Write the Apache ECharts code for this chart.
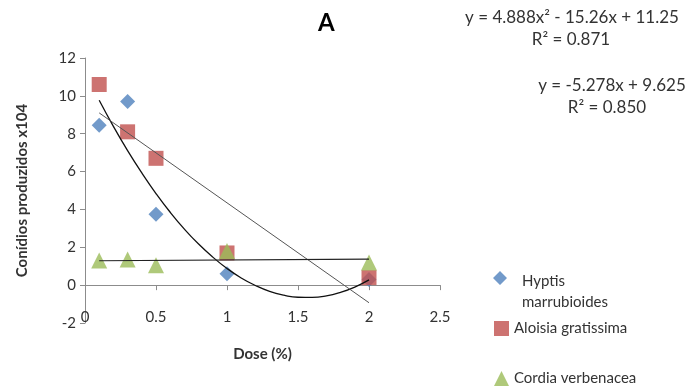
<!DOCTYPE html>
<html>
<head>
<meta charset="utf-8">
<script src="https://cdn.jsdelivr.net/npm/echarts@6/dist/echarts.min.js"></script>
<style>
  html, body { margin: 0; padding: 0; background: #fff; }
  #main { width: 685px; height: 387px; }
</style>
</head>
<body>
<div id="main"></div>
<script>
// dados
var doses = [0.1, 0.3, 0.5, 1, 2];
var hyptis = [8.45, 9.7, 3.75, 0.6, 0.3];
var aloisia = [10.6, 8.1, 6.7, 1.7, 0.4];
var cordia = [1.3, 1.35, 1.05, 1.8, 1.2];

// linhas de tendência
var polyX = [0.1, 0.2, 0.3, 0.4, 0.5, 0.6, 0.7, 0.8, 0.9, 1.0, 1.1, 1.2, 1.3, 1.4, 1.5, 1.6, 1.7, 1.8, 1.9, 2.0];
var polyY = [9.77, 8.39, 7.11, 5.93, 4.84, 3.85, 2.96, 2.17, 1.48, 0.88, 0.38, -0.02, -0.33, -0.53, -0.64, -0.65, -0.57, -0.38, -0.10, 0.28];
var linRedX = [0.1, 2];
var linRedY = [9.1, -0.93];
var linGreenX = [0.1, 2];
var linGreenY = [1.29, 1.37];

var xTicks = [0, 0.5, 1, 1.5, 2, 2.5];
var yTicks = [-2, 0, 2, 4, 6, 8, 10, 12];

var names = ["Hyptis\nmarrubioides", "Aloisia gratissima", "Cordia verbenacea"];
var equations = [
  "y = 4.888x² - 15.26x + 11.25",
  "R² = 0.871",
  "y = -5.278x + 9.625",
  "R² = 0.850"
];

function pairs(xs, ys) {
  return xs.map(function (x, i) { return [x, ys[i]]; });
}

var font = "Lato, 'Open Sans', sans-serif";
var axisColor = "#8c8c8c";
var txt = "#333";
var eqFont = "17px " + font;

// losango no alto de uma caixa mais alta (alinha com a 1a linha do nome)
var diamondTop = "path://M7,0L14,7L7,14L0,7Z M0,42L24,42Z";

function eq(text, x, y) {
  return {
    type: "text", x: x, y: y,
    style: { text: text, textAlign: "center", textVerticalAlign: "middle", font: eqFont, fill: txt }
  };
}

var myChart = echarts.init(document.getElementById("main"));

var option = {
  animation: false,
  textStyle: { fontFamily: font },
  title: {
    text: "A",
    left: 313,
    top: 6,
    textStyle: { fontFamily: font, fontSize: 24, fontWeight: "bold", color: "#000" }
  },
  grid: { left: 85, right: 245, top: 58, bottom: 64 },
  legend: [
    {
      data: [names[0]], orient: "vertical", left: 488, top: 266,
      icon: diamondTop, itemWidth: 24, itemHeight: 42,
      textStyle: { fontFamily: font, fontSize: 15, color: txt, lineHeight: 21 }
    },
    {
      data: [names[1]], orient: "vertical", left: 489, top: 316,
      itemWidth: 15, itemHeight: 15,
      textStyle: { fontFamily: font, fontSize: 15, color: txt }
    },
    {
      data: [names[2]], orient: "vertical", left: 489, top: 366,
      itemWidth: 15, itemHeight: 15,
      textStyle: { fontFamily: font, fontSize: 15, color: txt }
    }
  ],
  xAxis: [
    {
      type: "value", min: xTicks[0], max: xTicks[xTicks.length - 1], interval: 0.5,
      axisLine: { onZero: true, lineStyle: { color: axisColor } },
      axisTick: { show: true, inside: false, length: 5, lineStyle: { color: axisColor } },
      axisLabel: { show: false },
      splitLine: { show: false }
    },
    {
      type: "value", min: xTicks[0], max: xTicks[xTicks.length - 1], interval: 0.5,
      position: "bottom",
      axisLine: { show: false, onZero: false },
      axisTick: { show: false },
      splitLine: { show: false },
      axisLabel: { margin: -13, fontSize: 15, color: txt, fontFamily: font },
      name: "Dose (%)", nameLocation: "middle", nameGap: 24,
      nameTextStyle: { fontFamily: font, fontSize: 15, fontWeight: "bold", color: txt }
    }
  ],
  yAxis: {
    type: "value", min: yTicks[0], max: yTicks[yTicks.length - 1], interval: 2,
    axisLine: { show: true, onZero: false, lineStyle: { color: axisColor } },
    axisTick: { show: true, length: 5, lineStyle: { color: axisColor } },
    splitLine: { show: false },
    axisLabel: { fontSize: 15, color: txt, fontFamily: font, margin: 9 },
    name: "Conídios produzidos x104", nameLocation: "middle", nameGap: 55,
    nameTextStyle: { fontFamily: font, fontSize: 15, fontWeight: "bold", color: txt }
  },
  graphic: [
    eq(equations[0], 572, 18),
    eq(equations[1], 571, 40),
    eq(equations[2], 612, 86),
    eq(equations[3], 607, 108)
  ],
  series: [
    {
      name: names[0], type: "scatter", symbol: "diamond", symbolSize: 15,
      itemStyle: { color: "#4F81BD" },
      data: pairs(doses, hyptis), z: 3
    },
    {
      name: names[1], type: "scatter", symbol: "rect", symbolSize: 15,
      itemStyle: { color: "#C0504D" },
      data: pairs(doses, aloisia), z: 4
    },
    {
      name: names[2], type: "scatter", symbol: "triangle", symbolSize: 16,
      itemStyle: { color: "#9BBB59" },
      data: pairs(doses, cordia), z: 5
    },
    {
      name: "poly", type: "line", smooth: true, showSymbol: false, silent: true,
      lineStyle: { color: "#111", width: 1.3 },
      data: pairs(polyX, polyY), z: 6
    },
    {
      name: "linRed", type: "line", showSymbol: false, silent: true,
      lineStyle: { color: "#555", width: 1 },
      data: pairs(linRedX, linRedY), z: 6
    },
    {
      name: "linGreen", type: "line", showSymbol: false, silent: true,
      lineStyle: { color: "#222", width: 1.2 },
      data: pairs(linGreenX, linGreenY), z: 6
    }
  ]
};

myChart.setOption(option);
</script>
</body>
</html>
